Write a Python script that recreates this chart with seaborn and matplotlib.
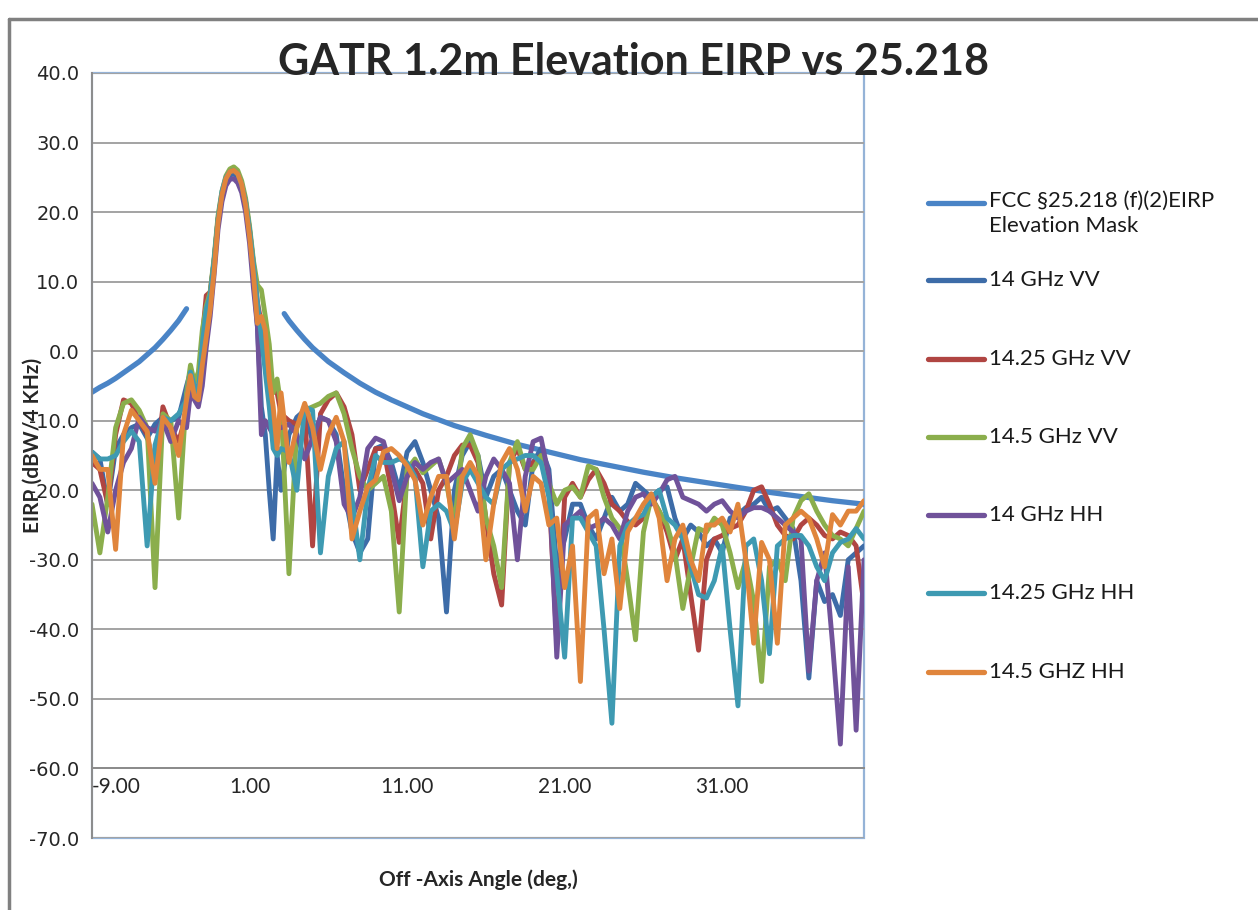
import matplotlib.pyplot as plt
import seaborn as sns
from matplotlib.lines import Line2D
from matplotlib.patches import Rectangle

sns.set_style("white")
plt.rcParams['font.family'] = ['Lato', 'DejaVu Sans']

title = "GATR 1.2m Elevation EIRP vs 25.218"
series_names = ["FCC §25.218 (f)(2)EIRP\nElevation Mask", "14 GHz VV", "14.25 GHz VV",
                "14.5 GHz VV", "14 GHz HH", "14.25 GHz HH", "14.5 GHZ HH"]
colors = ["#4A84C6", "#3D6CA8", "#B04542", "#8BAE4C", "#70529A", "#3E9AB2", "#E0853C"]

# FCC mask (two branches, gap around the main beam)
mask_left_angle = [-9, -8.5, -8, -7.5, -7, -6.5, -6, -5.5, -5, -4.5, -4, -3.5, -3]
mask_left = [-5.9, -5.2, -4.6, -3.9, -3.1, -2.3, -1.5, -0.5, 0.5, 1.7, 3.0, 4.4, 6.1]
mask_right_angle = [3.2, 3.5, 4, 4.5, 5, 6, 7, 8, 9, 10, 12, 14, 16, 18, 20, 22, 24, 26,
                    28, 30, 32, 34, 36, 38, 40]
mask_right = [5.4, 4.4, 3.0, 1.7, 0.5, -1.5, -3.1, -4.6, -5.9, -7.0, -9.0, -10.7, -12.1,
              -13.4, -14.5, -15.6, -16.5, -17.4, -18.2, -18.9, -19.6, -20.3, -20.9, -21.5, -22.0]

# measured angle grid (deg)
angle_far = [-9.0, -8.5, -8.0, -7.5, -7.0, -6.5, -6.0, -5.5, -5.0, -4.5, -4.0, -3.5, -3.0]
angle_lobe = [-2.75, -2.5, -2.25, -2.0, -1.75, -1.5, -1.25, -1.0, -0.75, -0.5, -0.25, 0.0,
              0.25, 0.5, 0.75, 1.0, 1.25, 1.5, 1.75, 2.0, 2.25, 2.5, 2.75]
angle_side = [3.0, 3.5, 4.0, 4.5, 5.0, 5.5, 6.0, 6.5, 7.0, 7.5,
              8.0, 8.5, 9.0, 9.5, 10.0, 10.5, 11.0, 11.5, 12.0, 12.5,
              13.0, 13.5, 14.0, 14.5, 15.0, 15.5, 16.0, 16.5, 17.0, 17.5,
              18.0, 18.5, 19.0, 19.5, 20.0, 20.5, 21.0, 21.5, 22.0, 22.5,
              23.0, 23.5, 24.0, 24.5, 25.0, 25.5, 26.0, 26.5, 27.0, 27.5,
              28.0, 28.5, 29.0, 29.5, 30.0, 30.5, 31.0, 31.5, 32.0, 32.5,
              33.0, 33.5, 34.0, 34.5, 35.0, 35.5, 36.0, 36.5, 37.0, 37.5,
              38.0, 38.5, 39.0, 39.5, 40.0]
angle = angle_far + angle_lobe + angle_side

vv14 = ([-14.5, -15.5, -22, -14, -12, -11, -10.5, -12.5, -10.5, -9.5, -10, -9.5, -5]
        + [-3, -5, -6, 0, 6, 8, 13, 19, 22.5, 24.5, 25.3, 25.5, 25, 23.5, 21, 17, 11, 3.5,
           -8, -12, -20, -27, -15]
        + [-20, -12, -9.5, -8.5, -13, -9.5, -10, -12, -20, -26,
           -29, -27, -14, -13.5, -16, -20, -14.5, -13, -16, -20,
           -24, -37.5, -20, -15, -13, -15, -21, -18, -17, -20,
           -23, -25, -16, -14, -17, -31, -27, -22, -22, -25,
           -27, -24, -21, -23, -22, -19, -20, -21, -20, -19.5,
           -24, -27, -25, -26, -28, -27, -29, -24, -23.5, -22.5,
           -22, -21, -23, -22.5, -24, -25.5, -33, -47, -33, -36,
           -35, -38, -30, -29, -28])
vv1425 = ([-16, -17, -22, -12, -7, -7.5, -10, -12, -18, -8, -11, -13, -9]
          + [-3, -5.5, -6, 2, 8, 8.5, 13, 19, 22.5, 24.8, 25.8, 26, 25.5, 24, 21.5, 17.5,
             12.5, 7, 4, 0, -3, -5, -6]
          + [-9, -10, -10.5, -9, -28, -9, -7, -6, -8, -12,
             -20, -17, -14, -14, -20, -27.5, -18, -17, -19, -27,
             -20, -18, -15, -13.5, -13.5, -16, -24, -32, -36.5, -16,
             -14, -17, -16, -15, -20, -42, -21, -19, -21, -18.5,
             -17, -19, -22, -23, -24.5, -25, -24, -21, -23, -26,
             -30, -27, -35, -43, -30, -27, -26.5, -25.5, -25, -23,
             -20, -19.5, -22, -25, -26.5, -27, -25, -24, -25, -26.5,
             -27, -26, -26.5, -28, -36.5])
vv145 = ([-22, -29, -21, -11, -7.5, -7, -8.5, -11, -34, -9, -10, -24, -6]
         + [-2, -4.5, -3, 3, 6.5, 8.5, 13.5, 19.5, 23, 25.2, 26.2, 26.5, 26, 24.5, 22, 18,
            13, 9.5, 8.8, 5, 1, -6, -4]
         + [-8, -32, -11, -8.5, -8, -7.5, -6.5, -6, -9, -14,
            -18, -20, -19, -18, -23, -37.5, -17, -15.5, -17.5, -16.5,
            -15.5, -19, -25, -14, -12, -15, -24, -28, -34, -16,
            -13, -17, -17, -15, -19, -22, -20, -19.5, -21, -16.5,
            -17, -21, -24, -25.5, -33, -41.5, -26, -21, -23, -25,
            -29, -37, -31, -25.5, -26, -24, -25, -29, -34, -30,
            -36, -47.5, -31, -30, -33, -24, -21.5, -20.5, -23, -25,
            -26.5, -27, -28, -25.5, -23])
hh14 = ([-19, -21, -26, -20, -16, -14, -9.5, -11, -11.5, -10, -13, -10, -11]
        + [-6, -7, -8, -5, 0.5, 5, 11, 17.5, 21.5, 23.8, 24.7, 24.8, 24.2, 22.8, 20, 15.5,
           9, 3.5, -12, -10, -11, -12, -11]
        + [-11, -10.5, -12, -15.5, -12.5, -9.5, -10, -13, -22, -24,
           -21, -14, -12.5, -13, -17, -21.5, -18, -16, -17, -16,
           -15.5, -19, -18, -17, -20, -23, -18, -15.5, -17, -19,
           -30, -18, -13, -12.5, -18, -44, -25, -24, -23, -25.5,
           -25, -24, -25, -27, -23, -21, -20.5, -22, -20.5, -18.5,
           -18, -21, -21.5, -22, -23, -22, -21.5, -23, -24, -23,
           -22.5, -22.5, -23, -24, -25, -26, -27, -46, -33, -29,
           -42, -56.5, -31, -54.5, -30])
hh1425 = ([-14.5, -15.5, -15.5, -15, -13, -11.5, -13, -28, -13.5, -9.5, -10, -9, -7]
          + [-3, -5, -6, 1, 6, 8, 13, 19, 23, 25, 25.8, 26, 25.5, 24, 21.5, 17.5, 12.5, 7,
             2, -3, -8, -14, -15]
          + [-14, -14.5, -20, -8, -8.5, -29, -18, -14, -13, -21,
             -30, -20, -15, -16, -16, -15.5, -16, -18, -31, -23,
             -22, -23, -26, -19, -17, -19, -21, -22, -17, -16,
             -15.5, -15, -15, -16, -21, -32, -44, -24, -24, -26,
             -28, -40, -53.5, -28, -25, -24, -23.5, -21, -20, -24,
             -25, -27, -31, -35, -35.5, -33, -28, -40, -51, -28,
             -27, -33, -43.5, -28, -27, -26.5, -26.5, -28, -31, -33,
             -29, -27.5, -27, -25.5, -27])
hh145 = ([-15, -17, -17, -28.5, -12, -8.5, -10, -11.5, -19, -9.5, -11, -15, -7]
         + [-3.5, -6.5, -7, -2, 2, 6, 11.5, 18.5, 22.5, 24.8, 25.8, 26, 25.5, 24, 21, 16.5,
            11, 4, 5, 3, -4, -8, -14]
         + [-6, -16, -11, -7.5, -11, -17, -12, -9.5, -13, -27,
            -23, -19.5, -18.5, -14.5, -14, -15, -16.5, -18.5, -25, -21,
            -18, -18, -27, -18, -16, -18, -30, -22, -16, -14,
            -17, -23, -18, -19, -25, -24, -34, -28, -47.5, -24,
            -23, -32, -27, -37, -26, -24, -22, -20.5, -24, -33,
            -27, -25, -30, -33, -25, -25, -24, -26, -22, -30,
            -42, -27.5, -30, -42, -25, -24, -23, -24, -27, -31,
            -23.5, -25, -23, -23, -21.5])

yticks = [-70, -60, -50, -40, -30, -20, -10, 0, 10, 20, 30, 40]
xticks = [-9, 1, 11, 21, 31]

W, H = 1258, 910
fig = plt.figure(figsize=(W / 100, H / 100), dpi=100)
ax = fig.add_axes([92 / W, 1 - 838 / H, (864 - 92) / W, (838 - 73) / H])

# mask first, measured traces on top
sns.lineplot(x=mask_left_angle, y=mask_left, ax=ax, color=colors[0], lw=3.8)
sns.lineplot(x=mask_right_angle, y=mask_right, ax=ax, color=colors[0], lw=3.8)
for vals, col in zip([vv14, vv1425, vv145, hh14, hh1425, hh145], colors[1:]):
    sns.lineplot(x=angle, y=vals, ax=ax, color=col, lw=3.5)

ax.set_xlim(-9, 40)
ax.set_ylim(-70, 40)
ax.set_xlabel("")
ax.set_ylabel("")

# spine placement first (it resets tick settings)
for s in ["top", "right"]:
    ax.spines[s].set_visible(False)
ax.spines["bottom"].set_position(("data", -60))
ax.spines["left"].set_color("#8C8C8C")
ax.spines["left"].set_linewidth(1.4)
ax.spines["bottom"].set_color("#8C8C8C")
ax.spines["bottom"].set_linewidth(1.4)

ax.set_yticks(yticks)
ax.set_yticklabels([f"{v:.1f}" for v in yticks], family="DejaVu Sans", fontsize=14, color="#262626")
ax.set_xticks(xticks)
ax.set_xticklabels([f"{v:.2f}" for v in xticks], fontsize=15, color="#262626")
ax.tick_params(axis="x", direction="in", length=7, color="#8C8C8C", pad=6)
ax.tick_params(axis="y", direction="out", length=7, color="#8C8C8C", pad=2)
ax.get_xticklabels()[0].set_horizontalalignment("left")

ax.yaxis.grid(True, color="#A3A3A3", lw=1.4)
ax.xaxis.grid(False)
ax.set_axisbelow(True)

# plot-area frame
ax.add_patch(Rectangle((0, 0), 1, 1, transform=ax.transAxes, fill=False,
                       edgecolor="#95B3D7", lw=1.6, clip_on=False, zorder=0.5))

fig.text(634 / W, 1 - 62 / H, title, ha="center", va="center", fontsize=31,
         fontweight="bold")
fig.text(33 / W, 1 - 445 / H, "EIRP (dBW/4 KHz)", rotation=90, ha="center", va="center",
         fontsize=15, fontweight="bold")
fig.text(478 / W, 1 - 880 / H, "Off -Axis Angle (deg,)", ha="center", va="center",
         fontsize=15, fontweight="bold")

# legend drawn to match the original spacing
rows = [203, 280, 359, 437, 515, 593, 672]
for name, col, yp in zip(series_names, colors, rows):
    y = 1 - yp / H
    fig.add_artist(Line2D([928 / W, 984 / W], [y, y], color=col, lw=3.8,
                          transform=fig.transFigure))
    if "\n" in name:
        fig.text(989 / W, y + 12 / H, name, ha="left", va="top", fontsize=16,
                 linespacing=1.3, color="#1a1a1a")
    else:
        fig.text(989 / W, y, name, ha="left", va="center", fontsize=16, color="#1a1a1a")

# outer chart border
fig.add_artist(Line2D([9 / W, 9 / W], [0, 1 - 19 / H], color="#808080", lw=2.5,
                      transform=fig.transFigure))
fig.add_artist(Line2D([9 / W, 1], [1 - 19 / H, 1 - 19 / H], color="#808080", lw=2.5,
                      transform=fig.transFigure))

fig.savefig("out.png", dpi=100)
